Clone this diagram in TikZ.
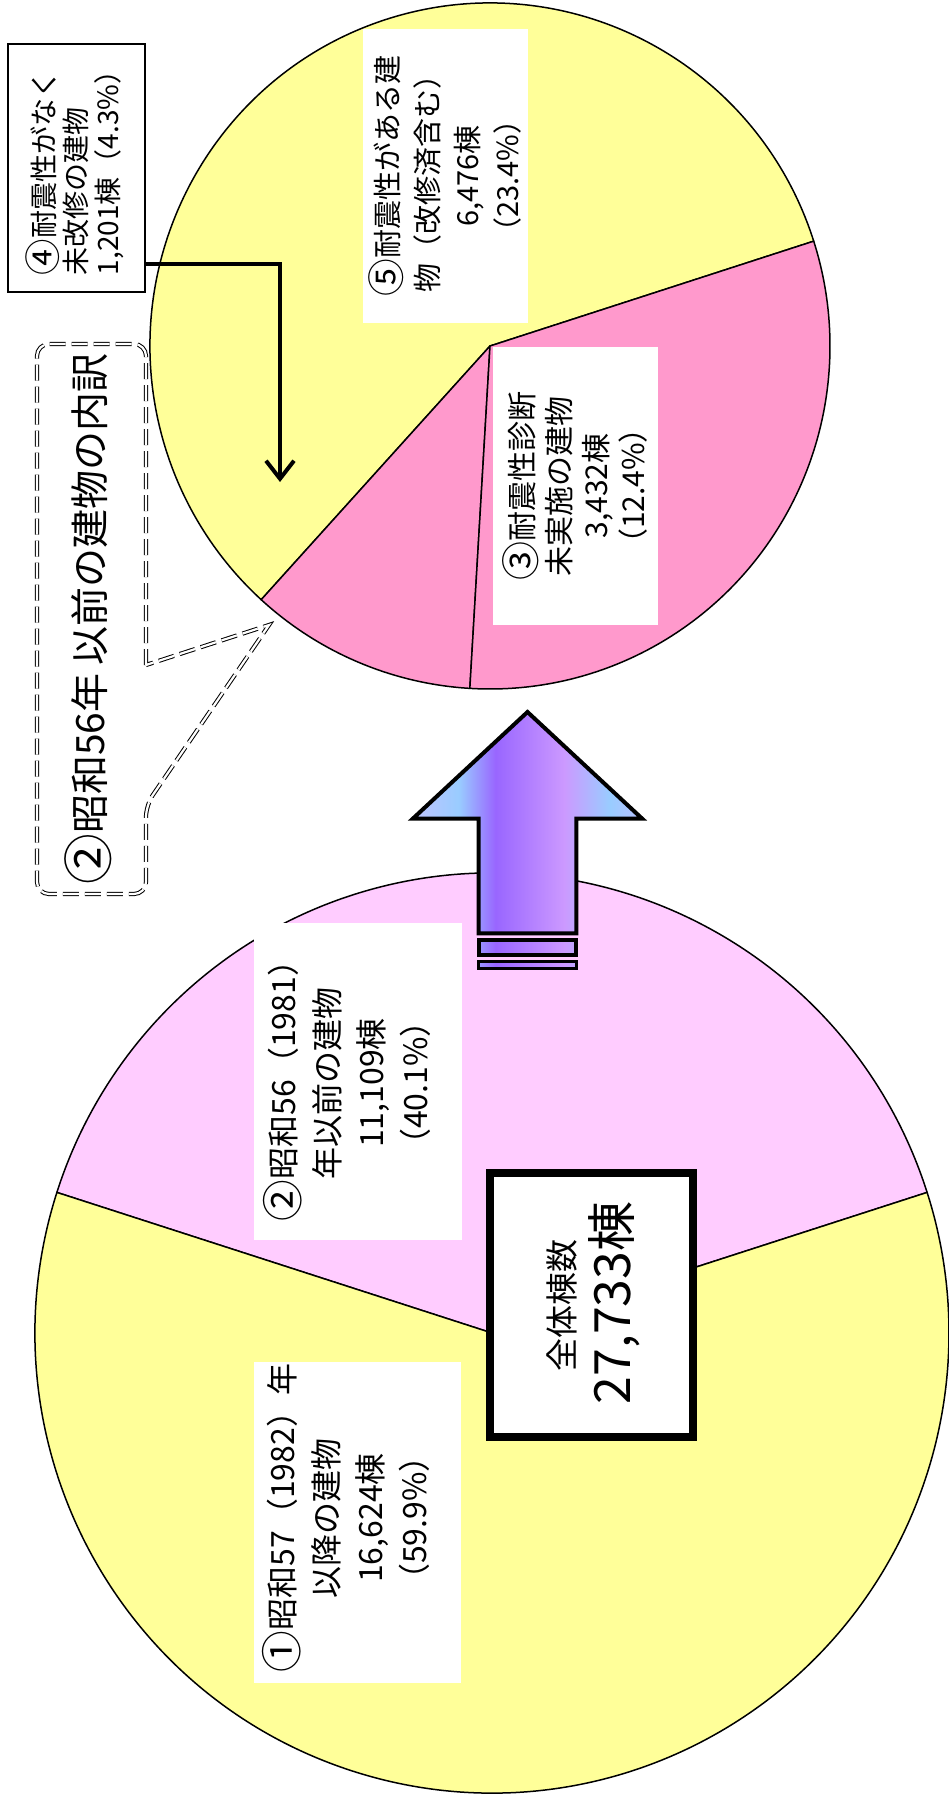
\documentclass[tikz,border=0pt]{standalone}
\usepackage{graphicx}
\usepackage{fontspec}
\setmainfont{Noto Sans CJK JP}
\newcommand{\cn}[1]{\raisebox{-0.08em}{\scalebox{1.3}{#1}}}
\newcommand{\lline}[1]{\makebox[214pt][l]{#1}}
\usetikzlibrary{arrows.meta,calc}
\definecolor{pyellow}{HTML}{FFFF99}
\definecolor{plpink}{HTML}{FFCCFF}
\definecolor{ppink}{HTML}{FF99CC}
\definecolor{agA}{HTML}{C0C4FF}
\definecolor{agB}{HTML}{99CCFF}
\definecolor{agC}{HTML}{9966FF}
\definecolor{agD}{HTML}{CC99FF}
\definecolor{agE}{HTML}{B8C0FF}
\pgfdeclarehorizontalshading{arrowgrad}{100bp}{color(0bp)=(agA); color(25bp)=(agA); color(35bp)=(agB); color(43bp)=(agC); color(58bp)=(agD); color(68bp)=(agB); color(75bp)=(agE); color(100bp)=(agE)}
\tikzset{
  pieline/.style={draw=black, line width=1.5pt, line join=round},
  whitebox/.style={fill=white, inner sep=0pt},
  rottext/.style={rotate=90, inner sep=0pt, align=center, text=black},
  arrowout/.style={draw=black, line width=4pt, line join=miter},
  calloutline/.style={draw=black, line width=1pt, double=white, double distance=2.2pt, dash pattern=on 16pt off 6pt},
}
\begin{document}
\begin{tikzpicture}[x=1pt,y=1pt]
\useasboundingbox (0,0) rectangle (948,-1798);
% ---------------- big pie ----------------
\coordinate (bigc) at (492,-1333);
\draw[pieline, fill=plpink] (bigc) -- ++(17.8:457pt and 460pt) arc[start angle=17.8, end angle=162.2, x radius=457pt, y radius=460pt] -- cycle;
\draw[pieline, fill=pyellow] (bigc) -- ++(162.2:457pt and 460pt) arc[start angle=162.2, end angle=377.8, x radius=457pt, y radius=460pt] -- cycle;
% ---------------- small pie ----------------
\coordinate (smallc) at (490,-346);
\draw[pieline, fill=pyellow] (smallc) -- ++(17.8:340pt and 343pt) arc[start angle=17.8, end angle=227.7, x radius=340pt, y radius=343pt] -- cycle;
\draw[pieline, fill=ppink] (smallc) -- ++(227.7:340pt and 343pt) arc[start angle=227.7, end angle=266.6, x radius=340pt, y radius=343pt] -- cycle;
\draw[pieline, fill=ppink] (smallc) -- ++(266.6:340pt and 343pt) arc[start angle=266.6, end angle=377.8, x radius=340pt, y radius=343pt] -- cycle;
% ---------------- labels ----------------
\node[whitebox, minimum width=165pt, minimum height=294pt] (n5) at (445,-176) {};
\node[rottext, font=\fontsize{29}{40}\selectfont] (n5text) at (n5.center)
  {\cn{⑤}耐震性がある建\\物（改修済含む）\\6,476棟\\（23.4\%）};
\node[whitebox, minimum width=165pt, minimum height=278pt] (n3) at (575,-486) {};
\node[rottext, font=\fontsize{30}{37}\selectfont] (n3text) at (n3.center)
  {\cn{③}耐震性診断\\未実施の建物\\3,432棟\\（12.4\%）};
\node[whitebox, minimum width=208pt, minimum height=317pt] (n2) at (358,-1081) {};
\node[rottext, font=\fontsize{32}{44}\selectfont] (n2text) at (347,-1083)
  {\cn{②}昭和56（1981）\\年以前の建物\\11,109棟\\（40.1\%）};
\node[whitebox, minimum width=207pt, minimum height=321pt] (n1) at (357,-1522) {};
\node[rottext, font=\fontsize{32}{44}\selectfont] (n1text) at (346,-1518)
  {\cn{①}昭和57（1982）年\\以降の建物\\16,624棟\\（59.9\%）};
\node[draw=black, line width=1.6pt, fill=white, inner sep=0pt, minimum width=137pt, minimum height=248pt] (n4) at (76.5,-168) {};
\node[rottext, font=\fontsize{28}{32}\selectfont] (n4text) at (75,-168)
  {\lline{\cn{④}耐震性がなく}\\\lline{未改修の建物}\\\lline{1,201棟（4.3\%）}};
% total box
\node[draw=black, line width=7pt, fill=white, minimum width=204pt, minimum height=265pt, inner sep=0pt] (totbox) at (591.5,-1305) {};
\draw[line width=1.5pt] ($(totbox.south west)+(7,7)$) rectangle ($(totbox.north east)-(7,7)$);
\node[rottext, font=\fontsize{33}{40}\selectfont] (tot1) at (562,-1305) {全体棟数};
\node[rottext, font=\fontsize{50}{56}\selectfont] (tot2) at (614,-1303) {27,733棟};
% ---------------- big arrow ----------------
\shade[shading=arrowgrad] (527.5,-712) -- (642,-818.5) -- (576.3,-818.5) -- (576.3,-933.3) -- (478.7,-933.3) -- (478.7,-818.5) -- (413,-818.5) -- cycle;
\draw[arrowout] (527.5,-712) -- (642,-818.5) -- (576.3,-818.5) -- (576.3,-933.3) -- (478.7,-933.3) -- (478.7,-818.5) -- (413,-818.5) -- cycle;
\begin{scope}
  \clip (478.7,-940.3) rectangle (576.3,-954.7);
  \shade[shading=arrowgrad] (413,-930) rectangle (642,-975);
\end{scope}
\draw[arrowout] (478.7,-940.3) rectangle (576.3,-954.7);
\begin{scope}
  \clip (478.7,-961.3) rectangle (576.3,-968.7);
  \shade[shading=arrowgrad] (413,-930) rectangle (642,-975);
\end{scope}
\draw[draw=black, line width=3.5pt] (478.7,-961.3) rectangle (576.3,-968.7);
% ---------------- callout ----------------
\draw[calloutline] (146,-665) [rounded corners=12pt] -- (146,-344) -- (37,-344) -- (37,-894) -- (146,-894) -- (146,-805) [sharp corners] -- (269,-625) -- cycle;
\node[rottext, font=\fontsize{39}{44}\selectfont] (ctitle) at (88,-619) {\cn{②}昭和56年\hspace{0.2em}以前の建物の内訳};
% ---------------- arrow from 4 ----------------
\coordinate (a4start) at (n4.east |- 0,-264);
\coordinate (a4tip) at (280,-482);
\draw[line width=4pt, -{Straight Barb[length=18pt, width=28pt]}] (a4start) -| (a4tip);
\end{tikzpicture}
\end{document}
